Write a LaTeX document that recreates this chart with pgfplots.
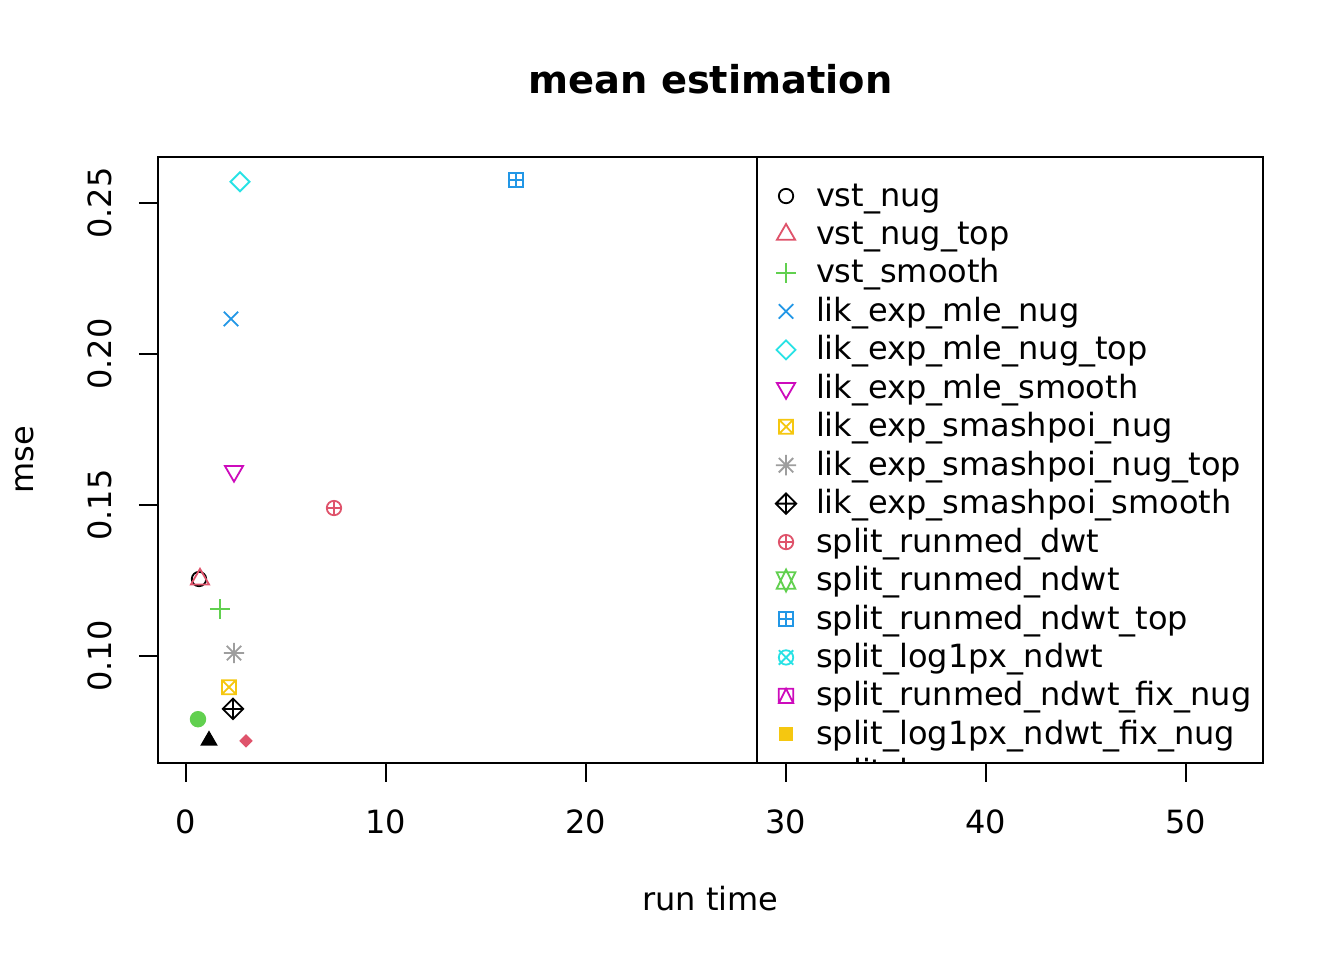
\documentclass[border=0pt]{standalone}
\usepackage{fontspec}
\setmainfont{DejaVu Sans}
\usepackage{pgfplots}
\pgfplotsset{compat=1.18}
\usetikzlibrary{plotmarks}

\definecolor{Rred}{HTML}{DF536B}
\definecolor{Rgreen}{HTML}{61D04F}
\definecolor{Rblue}{HTML}{2297E6}
\definecolor{Rcyan}{HTML}{28E2E5}
\definecolor{Rmag}{HTML}{CD0BBC}
\definecolor{Ryel}{HTML}{F5C710}
\definecolor{Rgray}{HTML}{9E9E9E}

% R-like plotting symbols
\pgfdeclareplotmark{Rcirc}{\pgfpathcircle{\pgfpointorigin}{7.2bp}\pgfusepathqstroke}
\pgfdeclareplotmark{Rtri}{%
 \pgfpathmoveto{\pgfqpoint{0bp}{10.5bp}}\pgfpathlineto{\pgfqpoint{9.1bp}{-5.25bp}}%
 \pgfpathlineto{\pgfqpoint{-9.1bp}{-5.25bp}}\pgfpathclose\pgfusepathqstroke}
\pgfdeclareplotmark{Rplus}{%
 \pgfpathmoveto{\pgfqpoint{-10bp}{0bp}}\pgfpathlineto{\pgfqpoint{10bp}{0bp}}%
 \pgfpathmoveto{\pgfqpoint{0bp}{-10bp}}\pgfpathlineto{\pgfqpoint{0bp}{10bp}}\pgfusepathqstroke}
\pgfdeclareplotmark{Rtimes}{%
 \pgfpathmoveto{\pgfqpoint{-7.2bp}{-7.2bp}}\pgfpathlineto{\pgfqpoint{7.2bp}{7.2bp}}%
 \pgfpathmoveto{\pgfqpoint{-7.2bp}{7.2bp}}\pgfpathlineto{\pgfqpoint{7.2bp}{-7.2bp}}\pgfusepathqstroke}
\pgfdeclareplotmark{Rdiam}{%
 \pgfpathmoveto{\pgfqpoint{0bp}{9.5bp}}\pgfpathlineto{\pgfqpoint{9.5bp}{0bp}}%
 \pgfpathlineto{\pgfqpoint{0bp}{-9.5bp}}\pgfpathlineto{\pgfqpoint{-9.5bp}{0bp}}\pgfpathclose\pgfusepathqstroke}
\pgfdeclareplotmark{Rtridown}{%
 \pgfpathmoveto{\pgfqpoint{0bp}{-10.5bp}}\pgfpathlineto{\pgfqpoint{9.1bp}{5.25bp}}%
 \pgfpathlineto{\pgfqpoint{-9.1bp}{5.25bp}}\pgfpathclose\pgfusepathqstroke}
\pgfdeclareplotmark{Rboxtimes}{%
 \pgfpathrectangle{\pgfqpoint{-7bp}{-7bp}}{\pgfqpoint{14bp}{14bp}}%
 \pgfpathmoveto{\pgfqpoint{-7bp}{-7bp}}\pgfpathlineto{\pgfqpoint{7bp}{7bp}}%
 \pgfpathmoveto{\pgfqpoint{-7bp}{7bp}}\pgfpathlineto{\pgfqpoint{7bp}{-7bp}}\pgfusepathqstroke}
\pgfdeclareplotmark{Rast}{%
 \pgfpathmoveto{\pgfqpoint{-7.2bp}{-7.2bp}}\pgfpathlineto{\pgfqpoint{7.2bp}{7.2bp}}%
 \pgfpathmoveto{\pgfqpoint{-7.2bp}{7.2bp}}\pgfpathlineto{\pgfqpoint{7.2bp}{-7.2bp}}%
 \pgfpathmoveto{\pgfqpoint{-10.2bp}{0bp}}\pgfpathlineto{\pgfqpoint{10.2bp}{0bp}}%
 \pgfpathmoveto{\pgfqpoint{0bp}{-10.2bp}}\pgfpathlineto{\pgfqpoint{0bp}{10.2bp}}\pgfusepathqstroke}
\pgfdeclareplotmark{Rdiamplus}{%
 \pgfpathmoveto{\pgfqpoint{0bp}{10.2bp}}\pgfpathlineto{\pgfqpoint{10.2bp}{0bp}}%
 \pgfpathlineto{\pgfqpoint{0bp}{-10.2bp}}\pgfpathlineto{\pgfqpoint{-10.2bp}{0bp}}\pgfpathclose
 \pgfpathmoveto{\pgfqpoint{-10.2bp}{0bp}}\pgfpathlineto{\pgfqpoint{10.2bp}{0bp}}%
 \pgfpathmoveto{\pgfqpoint{0bp}{-10.2bp}}\pgfpathlineto{\pgfqpoint{0bp}{10.2bp}}\pgfusepathqstroke}
\pgfdeclareplotmark{Roplus}{%
 \pgfpathcircle{\pgfpointorigin}{7.2bp}%
 \pgfpathmoveto{\pgfqpoint{-7.2bp}{0bp}}\pgfpathlineto{\pgfqpoint{7.2bp}{0bp}}%
 \pgfpathmoveto{\pgfqpoint{0bp}{-7.2bp}}\pgfpathlineto{\pgfqpoint{0bp}{7.2bp}}\pgfusepathqstroke}
\pgfdeclareplotmark{Rstar}{%
 \pgfpathmoveto{\pgfqpoint{0bp}{11bp}}\pgfpathlineto{\pgfqpoint{9.3bp}{-8.2bp}}%
 \pgfpathlineto{\pgfqpoint{-9.3bp}{-8.2bp}}\pgfpathclose
 \pgfpathmoveto{\pgfqpoint{0bp}{-11bp}}\pgfpathlineto{\pgfqpoint{9.3bp}{8.2bp}}%
 \pgfpathlineto{\pgfqpoint{-9.3bp}{8.2bp}}\pgfpathclose\pgfusepathqstroke}
\pgfdeclareplotmark{Rboxplus}{%
 \pgfpathrectangle{\pgfqpoint{-7.2bp}{-7.2bp}}{\pgfqpoint{14.4bp}{14.4bp}}%
 \pgfpathmoveto{\pgfqpoint{-7.2bp}{0bp}}\pgfpathlineto{\pgfqpoint{7.2bp}{0bp}}%
 \pgfpathmoveto{\pgfqpoint{0bp}{-7.2bp}}\pgfpathlineto{\pgfqpoint{0bp}{7.2bp}}\pgfusepathqstroke}
\pgfdeclareplotmark{Rcirctimes}{%
 \pgfpathcircle{\pgfpointorigin}{7.2bp}%
 \pgfpathmoveto{\pgfqpoint{-7.2bp}{-7.2bp}}\pgfpathlineto{\pgfqpoint{7.2bp}{7.2bp}}%
 \pgfpathmoveto{\pgfqpoint{-7.2bp}{7.2bp}}\pgfpathlineto{\pgfqpoint{7.2bp}{-7.2bp}}\pgfusepathqstroke}
\pgfdeclareplotmark{Rboxtri}{%
 \pgfpathrectangle{\pgfqpoint{-7.2bp}{-7.2bp}}{\pgfqpoint{14.4bp}{14.4bp}}%
 \pgfpathmoveto{\pgfqpoint{0bp}{7.2bp}}\pgfpathlineto{\pgfqpoint{7.2bp}{-7.2bp}}%
 \pgfpathlineto{\pgfqpoint{-7.2bp}{-7.2bp}}\pgfpathclose\pgfusepathqstroke}
\pgfdeclareplotmark{Rsqfill}{%
 \pgfpathrectangle{\pgfqpoint{-7bp}{-7bp}}{\pgfqpoint{14bp}{14bp}}\pgfusepathqfill}
\pgfdeclareplotmark{Rtrifill}{%
 \pgfpathmoveto{\pgfqpoint{0bp}{10.2bp}}\pgfpathlineto{\pgfqpoint{8.85bp}{-5.1bp}}%
 \pgfpathlineto{\pgfqpoint{-8.85bp}{-5.1bp}}\pgfpathclose\pgfusepathqfill}
\pgfdeclareplotmark{Rdiamfill}{%
 \pgfpathmoveto{\pgfqpoint{0bp}{6.7bp}}\pgfpathlineto{\pgfqpoint{6.7bp}{0bp}}%
 \pgfpathlineto{\pgfqpoint{0bp}{-6.7bp}}\pgfpathlineto{\pgfqpoint{-6.7bp}{0bp}}\pgfpathclose\pgfusepathqfill}
\pgfdeclareplotmark{Rcircfill}{%
 \pgfpathcircle{\pgfpointorigin}{7.3bp}\pgfusepathqfillstroke}

\tikzset{Rp/.style={only marks, mark options={solid, line width=1.8bp}}}

\begin{document}
\begin{tikzpicture}
\path[use as bounding box] (0,0) rectangle (1344bp,960bp);
\begin{axis}[
  at={(158bp,197bp)}, anchor=south west,
  width=1105bp, height=606bp, scale only axis,
  xmin=-1.4, xmax=53.85, ymin=0.0646, ymax=0.2652,
  axis on top,
  axis line style={line width=2bp},
  xtick={0,10,20,30,40,50}, ytick={0.10,0.15,0.20,0.25},
  xtick pos=bottom, ytick pos=left,
  tick align=outside, major tick length=19bp,
  every tick/.style={line width=2bp, black},
  scaled ticks=false,
  /pgf/number format/assume math mode=true,
  tick label style={font=\fontsize{32bp}{38bp}\selectfont},
  xticklabel style={anchor=north, inner sep=0pt, yshift=-28bp},
  yticklabel style={rotate=90, anchor=south, inner sep=0pt, yshift=27bp,
     /pgf/number format/.cd, fixed, fixed zerofill, precision=2},
  title={mean estimation}, xlabel={run time}, ylabel={mse},
  every axis title/.style={at={(0.5,1)}, anchor=base, yshift=63bp, inner sep=0pt,
     font=\bfseries\fontsize{38.4bp}{46bp}\selectfont},
  every axis x label/.style={at={(0.5,0)}, anchor=base, yshift=-147bp, inner sep=0pt,
     font=\fontsize{32bp}{38bp}\selectfont},
  every axis y label/.style={at={(0,0.5)}, rotate=90, anchor=base, yshift=124bp, inner sep=0pt,
     font=\fontsize{32bp}{38bp}\selectfont},
  legend cell align=left,
  legend image code/.code={\path[draw=none, fill=none] (-15bp,-1bp) rectangle (15bp,1bp); \draw[#1] plot coordinates {(0bp,0bp)};},
  legend style={at={(0.5548,0.9673)}, anchor=north west, draw=none, fill=none,
     inner sep=0pt, outer sep=0pt, row sep=0pt, column sep=15bp,
     font=\fontsize{32bp}{38bp}\selectfont,
     nodes={inner sep=0pt, outer sep=0pt, anchor=west, text height=29.25bp, text depth=9.2bp}},
]
\addplot[Rp, color=black, mark=Rcirc] coordinates {(0.65,0.1255)};
\addlegendentry{vst\_nug}
\addplot[Rp, color=Rred, mark=Rtri] coordinates {(0.70,0.1254)};
\addlegendentry{vst\_nug\_top}
\addplot[Rp, color=Rgreen, mark=Rplus] coordinates {(1.70,0.1156)};
\addlegendentry{vst\_smooth}
\addplot[Rp, color=Rblue, mark=Rtimes] coordinates {(2.25,0.2116)};
\addlegendentry{lik\_exp\_mle\_nug}
\addplot[Rp, color=Rcyan, mark=Rdiam] coordinates {(2.70,0.2570)};
\addlegendentry{lik\_exp\_mle\_nug\_top}
\addplot[Rp, color=Rmag, mark=Rtridown] coordinates {(2.40,0.1612)};
\addlegendentry{lik\_exp\_mle\_smooth}
\addplot[Rp, color=Ryel, mark=Rboxtimes] coordinates {(2.15,0.0897)};
\addlegendentry{lik\_exp\_smashpoi\_nug}
\addplot[Rp, color=Rgray, mark=Rast] coordinates {(2.40,0.1010)};
\addlegendentry{lik\_exp\_smashpoi\_nug\_top}
\addplot[Rp, color=black, mark=Rdiamplus] coordinates {(2.35,0.0825)};
\addlegendentry{lik\_exp\_smashpoi\_smooth}
\addplot[Rp, color=Rred, mark=Roplus] coordinates {(7.40,0.1490)};
\addlegendentry{split\_runmed\_dwt}
\addlegendimage{Rp, color=Rgreen, mark=Rstar}
\addlegendentry{split\_runmed\_ndwt}
\addplot[Rp, color=Rblue, mark=Rboxplus] coordinates {(16.50,0.2576)};
\addlegendentry{split\_runmed\_ndwt\_top}
\addlegendimage{Rp, color=Rcyan, mark=Rcirctimes}
\addlegendentry{split\_log1px\_ndwt}
\addlegendimage{Rp, color=Rmag, mark=Rboxtri}
\addlegendentry{split\_runmed\_ndwt\_fix\_nug}
\addlegendimage{Rp, color=Ryel, mark=Rsqfill}
\addlegendentry{split\_log1px\_ndwt\_fix\_nug}
\addplot[Rp, color=black, mark=Rtrifill, forget plot] coordinates {(1.15,0.0720)};
\addplot[Rp, color=Rred, mark=Rdiamfill, forget plot] coordinates {(3.00,0.0719)};
\addplot[Rp, color=Rgreen, mark=Rcircfill, forget plot] coordinates {(0.60,0.0791)};
\draw[line width=2bp, fill=white] (rel axis cs:0.5421,0) rectangle (rel axis cs:1,1);
\node[anchor=base west, inner sep=0pt, font=\fontsize{32bp}{38bp}\selectfont] at (axis cs:31.5,0.05815) {split\_loess};
\end{axis}
\end{tikzpicture}
\end{document}
